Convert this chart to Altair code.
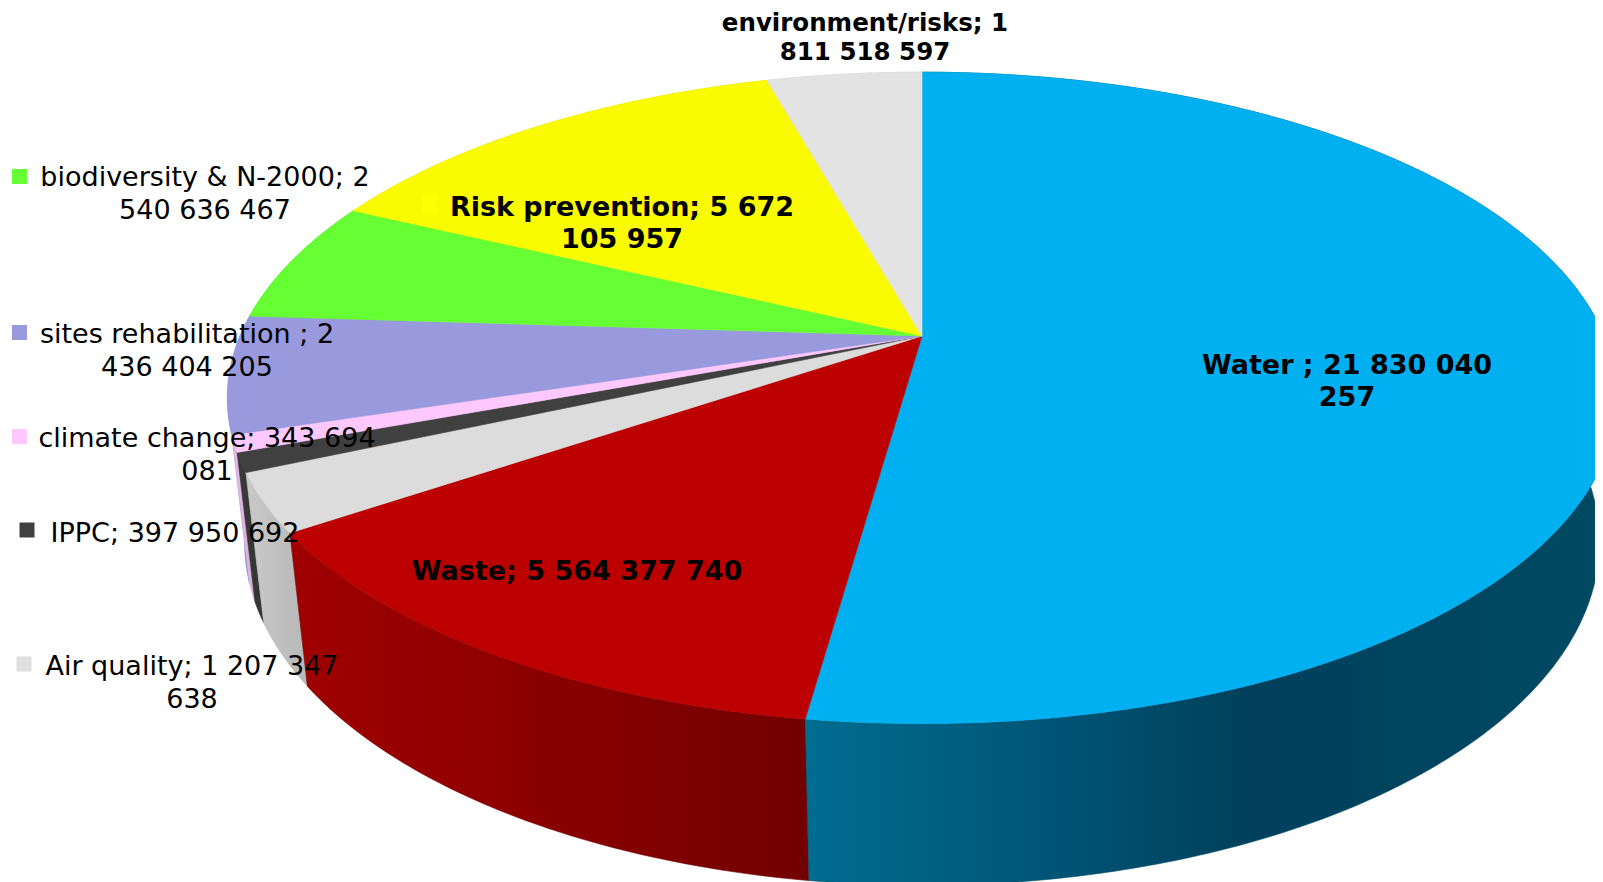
import numpy as np
import pandas as pd
import altair as alt

categories = ["Water", "Waste", "Air quality", "IPPC", "climate change",
              "sites rehabilitation", "biodiversity & N-2000",
              "Risk prevention", "Other environment/risks"]
values = [21830040257, 5564377740, 1207347638, 397950692, 343694081,
          2436404205, 2540636467, 5672105957, 1811518597]
top_colors = ["#00b0f0", "#bc0000", "#dcdcdc", "#404040", "#ffc8ff",
              "#9999dd", "#66ff33", "#fafa00", "#e3e3e3"]
wall_stops = [
    [(0, "#006d91"), (0.25, "#00597b"), (0.55, "#00405c"), (1, "#004a63")],
    [(0, "#a00000"), (0.5, "#8a0000"), (1, "#720000")],
    [(0, "#c9c9c9"), (1, "#b8b8b8")],
    [(0, "#3a3a3a"), (1, "#333333")],
    [(0, "#e6b8e6"), (1, "#dcb0dc")],
    [(0, "#8a8ac8"), (1, "#8a8ac8")],
    [(0, "#5ad02e"), (1, "#5ad02e")],
    [(0, "#d8d800"), (1, "#d8d800")],
    [(0, "#c8c8c8"), (1, "#c8c8c8")],
]

# ---- layout (page pixels): perspective of the top and bottom rims ----
CX = 922
TOP = dict(a=682, b=314, k=0.19, y0=336)
BOT = dict(a=666, b=332, k=0.183, y0=479)
NORMAL = "DejaVu Sans"

labels = [
    ("Water ; 21 830 040\n257", 1347, 374, True, 32, 27),
    ("Waste; 5 564 377 740", 577, 580, True, 32, 27),
    ("Risk prevention; 5 672\n105 957", 622, 216, True, 32, 27),
    ("Other\nenvironment/risks; 1\n811 518 597", 865, 2, True, 29, 24.5),
    ("biodiversity & N-2000; 2\n540 636 467", 205, 186, False, 33, 27),
    ("sites rehabilitation ; 2\n436 404 205", 187, 343, False, 33, 27),
    ("climate change; 343 694\n081", 207, 447, False, 33, 27),
    ("IPPC; 397 950 692", 175, 542, False, 33, 27),
    ("Air quality; 1 207 347\n638", 192, 675, False, 33, 27),
]
keys = [
    (19.5, 176.5, "#66ff33"), (19.5, 332.5, "#9999dd"), (19.5, 436.5, "#ffc8ff"),
    (27, 530, "#404040"), (24, 664, "#dfdfdf"), (430, 204, "#ffff00"),
]


def rim(t, p):
    """Project angle t (clockwise from the top of the circle) through a rim's perspective."""
    X, Y = np.sin(t), np.cos(t)
    d = 1 + p["k"] * Y
    return CX + p["a"] * X / d, p["y0"] - p["b"] * Y / d


shares = np.cumsum([0] + values) / sum(values) * 2 * np.pi

x_scale = alt.Scale(domain=[8, 1595], nice=False, zero=False)
y_scale = alt.Scale(domain=[882, 8], nice=False, zero=False)


def polygon(xs, ys, fill, stroke):
    df = pd.DataFrame({"x": np.round(xs, 2), "y": np.round(ys, 2), "i": np.arange(len(xs))})
    return alt.Chart(df).mark_line(fill=fill, stroke=stroke, strokeWidth=0.6, interpolate="linear").encode(
        x=alt.X("x:Q", scale=x_scale, axis=None),
        y=alt.Y("y:Q", scale=y_scale, axis=None),
        order=alt.Order("i:Q"),
    )


layers = []
# walls, from the back of the pie to the front
wall_order = [8, 7, 6, 5, 4, 3, 2, 1, 0]
for n in wall_order:
    t = np.linspace(shares[n], shares[n + 1], max(3, int((shares[n + 1] - shares[n]) * 90)))
    x1, y1 = rim(t, TOP)
    x2, y2 = rim(t[::-1], BOT)
    fill = alt.LinearGradient(
        gradient="linear", x1=0, x2=1, y1=0, y2=0,
        stops=[alt.GradientStop(offset=o, color=c) for o, c in wall_stops[n]],
    )
    layers.append(polygon(np.r_[x1, x2, x1[0]], np.r_[y1, y2, y1[0]], fill, wall_stops[n][-1][1]))

# top surface
for n in range(len(values)):
    t = np.linspace(shares[n], shares[n + 1], max(3, int((shares[n + 1] - shares[n]) * 90)))
    x1, y1 = rim(t, TOP)
    layers.append(polygon(np.r_[CX, x1, CX], np.r_[TOP["y0"], y1, TOP["y0"]], top_colors[n], top_colors[n]))

# legend keys next to the labels
for kx, ky, kc in keys:
    layers.append(
        alt.Chart(pd.DataFrame({"x": [kx], "y": [ky]})).mark_square(size=225, color=kc, opacity=1).encode(
            x=alt.X("x:Q", scale=x_scale, axis=None),
            y=alt.Y("y:Q", scale=y_scale, axis=None),
        )
    )

# labels
for txt, lx, ly, bold, lh, fs in labels:
    layers.append(
        alt.Chart(pd.DataFrame({"x": [lx], "y": [ly], "t": [txt]})).mark_text(
            font=NORMAL, fontSize=fs, fontWeight="bold" if bold else "normal", color="black",
            align="center", baseline="alphabetic", lineBreak="\n", lineHeight=lh,
        ).encode(
            x=alt.X("x:Q", scale=x_scale, axis=None),
            y=alt.Y("y:Q", scale=y_scale, axis=None),
            text="t:N",
        )
    )

chart = alt.layer(*layers).properties(
    width=1587, height=874, padding=0,
    autosize=alt.AutoSizeParams(type="none"),
).configure_view(stroke=None)

chart.save("out.html", embed_options={"renderer": "svg", "actions": False})
